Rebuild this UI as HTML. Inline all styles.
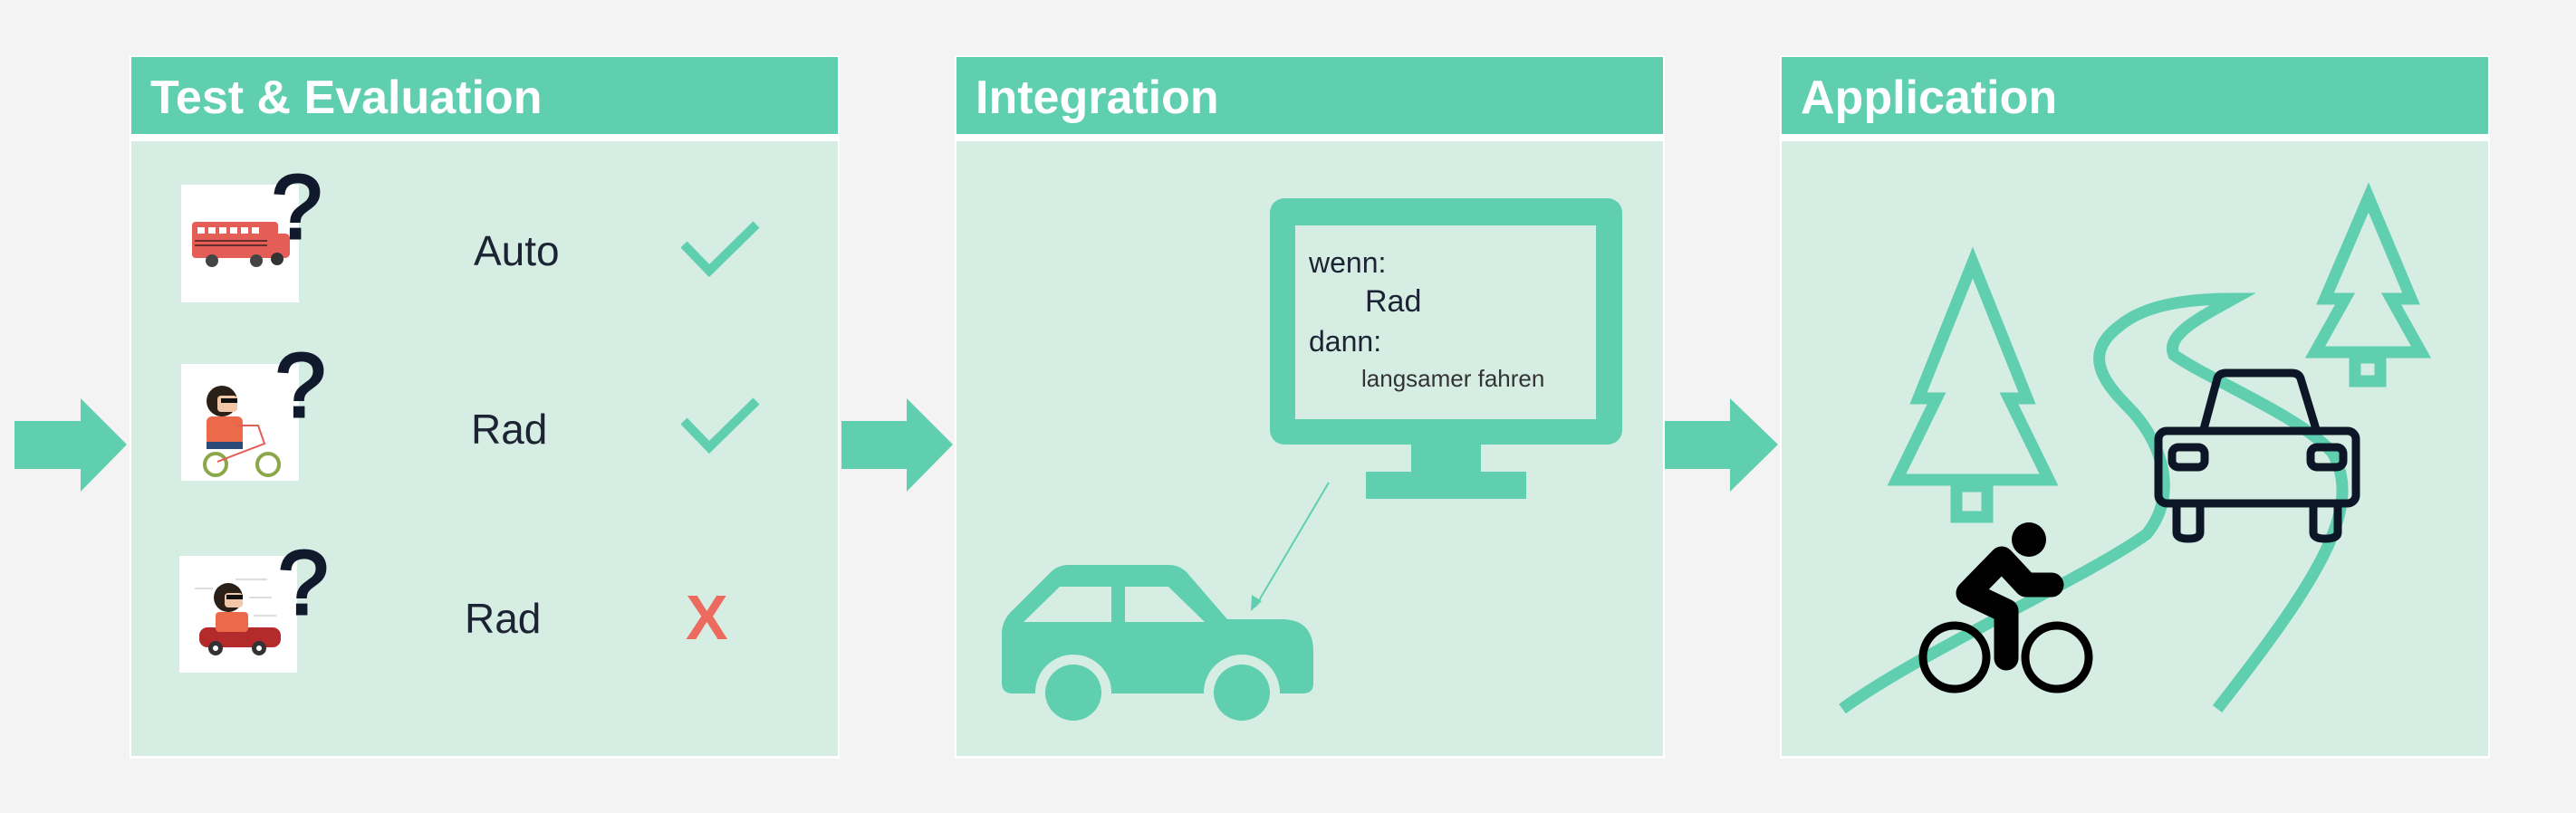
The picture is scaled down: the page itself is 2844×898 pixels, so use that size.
<!DOCTYPE html>
<html><head><meta charset="utf-8"><style>
html,body{margin:0;padding:0;background:#f3f3f3;}
svg{display:block;}
text{font-family:"Liberation Sans",sans-serif;}
</style></head><body>
<svg width="2844" height="898" viewBox="0 0 2844 898" xmlns="http://www.w3.org/2000/svg">
<rect width="2844" height="898" fill="#f3f3f3"/>
<g fill="#5fcfb0">
<polygon points="16,465 89,465 89,440 140,491 89,543 89,518 16,518"/>
<polygon points="929,465 1001,465 1001,440 1052,491 1001,543 1001,518 929,518"/>
<polygon points="1837,465 1910,465 1910,440 1963,491 1910,543 1910,518 1837,518"/>
</g>
<g>
<rect x="143" y="61" width="784" height="777" fill="#ffffff"/>
<rect x="145" y="63" width="780" height="85" fill="#5fcfb0"/>
<rect x="145" y="156" width="780" height="679" fill="#d6ede4"/>
<rect x="1054" y="61" width="784" height="777" fill="#ffffff"/>
<rect x="1056" y="63" width="780" height="85" fill="#5fcfb0"/>
<rect x="1056" y="156" width="780" height="679" fill="#d6ede4"/>
<rect x="1965" y="61" width="784" height="777" fill="#ffffff"/>
<rect x="1967" y="63" width="780" height="85" fill="#5fcfb0"/>
<rect x="1967" y="156" width="780" height="679" fill="#d6ede4"/>
</g>
<g fill="#ffffff" font-weight="bold" font-size="52">
<text x="166" y="125">Test &amp; Evaluation</text>
<text x="1077" y="125">Integration</text>
<text x="1988" y="125">Application</text>
</g>
<rect x="200" y="204" width="130" height="130" fill="#fff"/>
<rect x="198" y="614" width="130" height="129" fill="#fff"/>
<rect x="200" y="402" width="130" height="129" fill="#fff"/>
<g>
<rect x="212" y="245" width="95" height="40" rx="4" fill="#e55d57"/>
<rect x="295" y="258" width="25" height="27" rx="5" fill="#e55d57"/>
<g fill="#fff"><rect x="218" y="251" width="8" height="7"/><rect x="230" y="251" width="8" height="7"/><rect x="242" y="251" width="8" height="7"/><rect x="254" y="251" width="8" height="7"/><rect x="266" y="251" width="8" height="7"/><rect x="278" y="251" width="8" height="7"/></g>
<rect x="215" y="265" width="80" height="2" fill="#6a2c2c"/><rect x="215" y="270" width="80" height="2" fill="#6a2c2c"/>
<circle cx="234" cy="288" r="7" fill="#444"/><circle cx="283" cy="288" r="7" fill="#444"/><circle cx="306" cy="286" r="7" fill="#333"/>
</g>
<g>
<circle cx="238" cy="513" r="12" fill="none" stroke="#8aa84a" stroke-width="4"/>
<circle cx="296" cy="513" r="12" fill="none" stroke="#8aa84a" stroke-width="4"/>
<rect x="228" y="460" width="40" height="32" rx="6" fill="#ec6a4a"/>
<rect x="228" y="488" width="40" height="8" fill="#2a4a7a"/>
<circle cx="245" cy="443" r="17" fill="#2b2017"/>
<rect x="240" y="437" width="22" height="18" rx="4" fill="#f1c7a8"/>
<rect x="244" y="440" width="18" height="5" fill="#111"/>
<path d="M262 470 L285 470 L292 490 L240 510" fill="none" stroke="#e55d57" stroke-width="2"/>
</g>
<g>
<rect x="220" y="693" width="90" height="22" rx="9" fill="#b52a2a"/>
<circle cx="238" cy="716" r="8" fill="#333"/><circle cx="286" cy="716" r="8" fill="#333"/>
<circle cx="238" cy="716" r="3" fill="#fff"/><circle cx="286" cy="716" r="3" fill="#fff"/>
<rect x="238" y="676" width="36" height="22" rx="4" fill="#ec6a4a"/>
<circle cx="252" cy="660" r="16" fill="#2b2017"/>
<rect x="248" y="655" width="20" height="16" rx="4" fill="#f1c7a8"/>
<rect x="250" y="657" width="18" height="5" fill="#111"/>
<g stroke="#ddd" stroke-width="2"><line x1="260" y1="640" x2="295" y2="640"/><line x1="275" y1="660" x2="300" y2="660"/><line x1="215" y1="650" x2="235" y2="650"/><line x1="280" y1="680" x2="305" y2="680"/></g>
</g>
<g fill="#111a2c" stroke="#111a2c" stroke-width="3" font-size="100">
<text x="300" y="263">?</text>
<text x="304" y="460">?</text>
<text x="307" y="678">?</text>
</g>
<g fill="#1c2333" font-size="46">
<text x="523" y="293">Auto</text>
<text x="520" y="490">Rad</text>
<text x="513" y="699">Rad</text>
</g>
<g fill="none" stroke="#5fcfb0" stroke-width="10">
<polyline points="755,270 783,299 835,248"/>
<polyline points="755,465 783,494 835,443"/>
</g>
<text x="757" y="706" fill="#ec6b5e" font-size="70" font-weight="bold">X</text>
<rect x="1402" y="219" width="389" height="272" rx="16" fill="#5fcfb0"/>
<rect x="1430" y="249" width="332" height="214" fill="#d6ede4"/>
<rect x="1558" y="489" width="77" height="34" fill="#5fcfb0"/>
<rect x="1508" y="521" width="177" height="30" fill="#5fcfb0"/>
<g fill="#1c2333">
<text x="1445" y="301" font-size="32">wenn:</text>
<text x="1507" y="344" font-size="34">Rad</text>
<text x="1445" y="388" font-size="32">dann:</text>
<text x="1503" y="427" font-size="26" fill="#333">langsamer fahren</text>
</g>
<line x1="1467" y1="533" x2="1386" y2="670" stroke="#5fcfb0" stroke-width="2"/>
<polygon points="1381,675 1382,657 1393,664" fill="#5fcfb0"/>
<path d="M1106 700 Q1106 684 1120 672 L1160 632 Q1168 624 1180 624 L1290 624 Q1302 624 1310 632 L1355 684 L1415 684 Q1450 684 1450 720 L1450 755 Q1450 766 1438 766 L1118 766 Q1106 766 1106 754 Z" fill="#5fcfb0"/>
<path d="M1130 687 L1170 648 L1227 648 L1227 687 Z" fill="#d6ede4"/>
<path d="M1242 687 L1242 648 L1290 648 L1330 687 Z" fill="#d6ede4"/>
<circle cx="1185" cy="765" r="42" fill="#d6ede4"/>
<circle cx="1371" cy="765" r="42" fill="#d6ede4"/>
<rect x="1100" y="766" width="360" height="40" fill="#d6ede4"/>
<circle cx="1185" cy="765" r="31" fill="#5fcfb0"/>
<circle cx="1371" cy="765" r="31" fill="#5fcfb0"/>
<g fill="none" stroke="#5fcfb0" stroke-width="13" stroke-linejoin="miter">
<polygon points="2178,290 2238,440 2218,440 2262,530 2094,530 2138,440 2118,440"/>
<rect x="2160" y="537" width="34" height="34"/>
<polygon points="2615,218 2662,330 2640,330 2673,389 2556,389 2589,330 2567,330"/>
<rect x="2600" y="395" width="28" height="26"/>
<path d="M2034 783 C2120 720 2300 640 2370 590 C2410 540 2380 480 2350 450 C2320 420 2300 390 2340 360 C2370 335 2420 330 2466 330 C2430 350 2390 370 2400 392 C2440 420 2540 460 2575 500 C2610 560 2560 640 2448 783"/>
</g>
<g fill="none" stroke="#0d1626" stroke-width="9" stroke-linejoin="round">
<path d="M2433 474 L2448 418 Q2450 412 2458 412 L2530 412 Q2538 412 2540 418 L2557 474"/>
<rect x="2383" y="476" width="218" height="80" rx="9"/>
<rect x="2398" y="494" width="36" height="22" rx="7"/>
<rect x="2551" y="494" width="36" height="22" rx="7"/>
<path d="M2403 558 L2403 588 Q2403 595 2416 595 Q2429 595 2429 588 L2429 558"/>
<path d="M2554 558 L2554 588 Q2554 595 2567 595 Q2581 595 2581 588 L2581 558"/>
</g>
<g>
<circle cx="2240" cy="596" r="19" fill="#000"/>
<circle cx="2158" cy="726" r="35" fill="none" stroke="#000" stroke-width="9"/>
<circle cx="2271" cy="726" r="35" fill="none" stroke="#000" stroke-width="9"/>
<polyline points="2265,646 2237,646 2210,617 2173,655 2215,675 2215,727" fill="none" stroke="#000" stroke-width="27" stroke-linecap="round" stroke-linejoin="round"/>
</g>
</svg>
</body></html>
